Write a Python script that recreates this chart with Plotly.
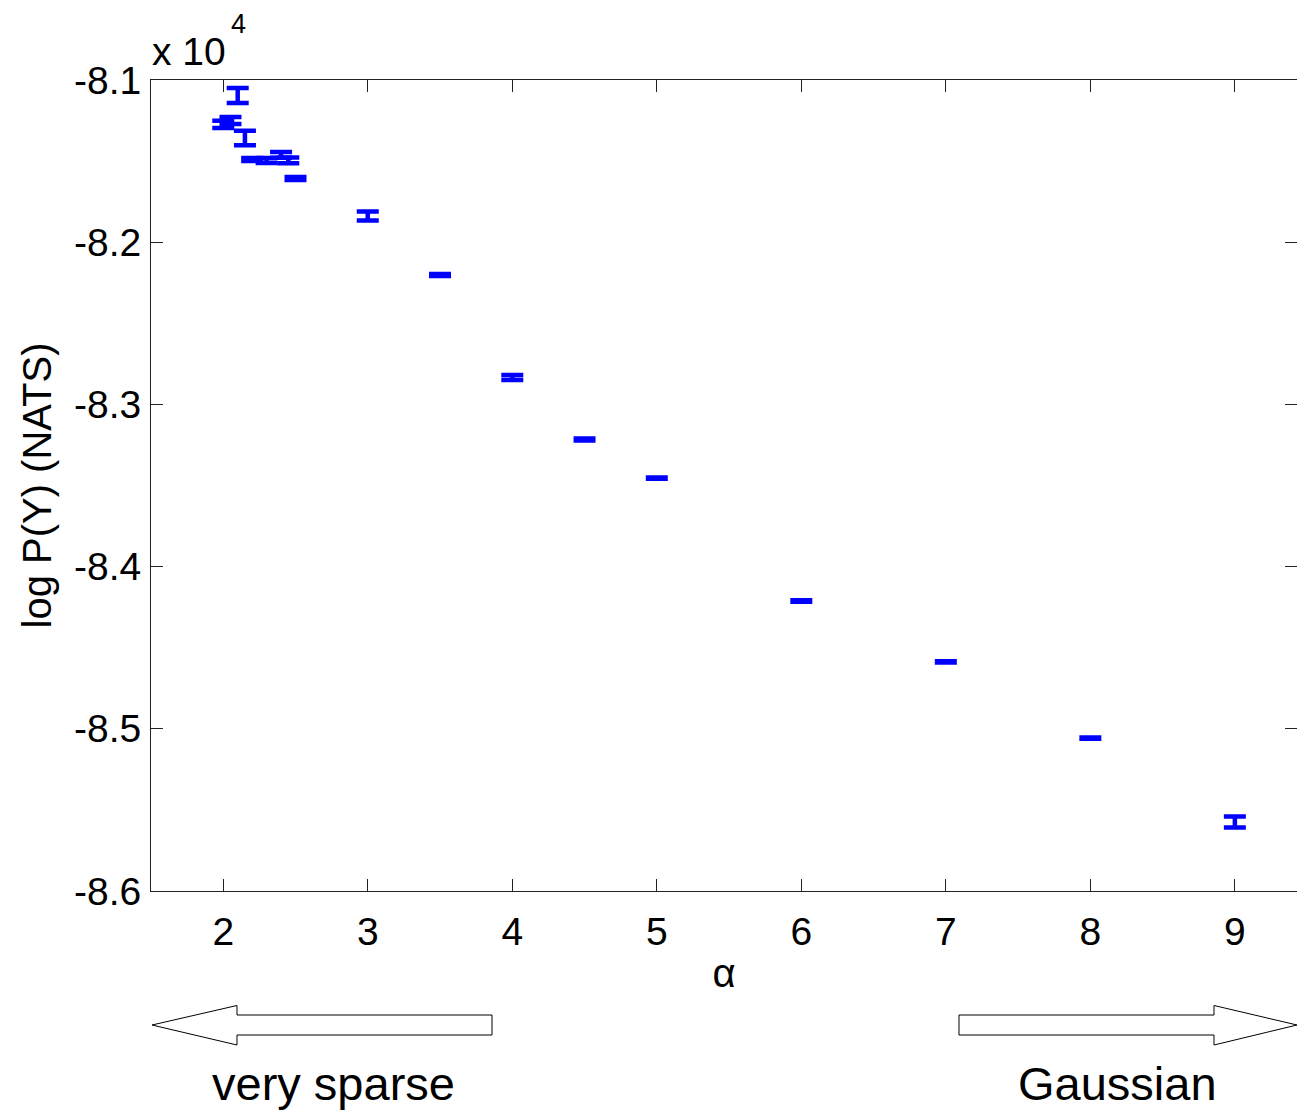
import plotly.graph_objects as go

# ---- data (log P(Y) in nats) ----
alpha = [2.0, 2.05, 2.1, 2.15, 2.2, 2.3, 2.4, 2.45, 2.5, 3.0, 3.5, 4.0, 4.5, 5.0, 6.0, 7.0, 8.0, 9.0]
logp = [-81274, -81250, -81096, -81358, -81490, -81496, -81462, -81496, -81607,
        -81838, -82202, -82834, -83216, -83454, -84212, -84588, -85057, -85574]
err = [22, 22, 46, 45, 9, 15, 18, 18, 9, 28, 6, 15, 6, 4, 4, 4, 4, 34]

x_ticks = [2, 3, 4, 5, 6, 7, 8, 9]
y_ticks = [-86000, -85000, -84000, -83000, -82000, -81000]
y_ticktext = ["-8.6", "-8.5", "-8.4", "-8.3", "-8.2", "-8.1"]

W, H = 1297, 1110
L, R, T, B = 151, 0, 80, 219
PW, PH = W - L - R, H - T - B
FONT = "Liberation Sans, Arial, Helvetica, sans-serif"


def px(x):
    return (x - L) / PW


def py(y):
    return (H - B - y) / PH


fig = go.Figure()
fig.add_trace(go.Scatter(
    x=alpha, y=logp, mode="markers",
    marker=dict(size=2, color="#0000ff"),
    error_y=dict(type="data", array=err, visible=True, color="#0000ff", thickness=4.5, width=11),
    showlegend=False, hoverinfo="x+y",
))

axis_common = dict(
    showline=True, linecolor="#222", linewidth=1, mirror="ticks",
    ticks="inside", ticklen=12, tickcolor="#222", tickwidth=1,
    showgrid=False, zeroline=False,
    tickfont=dict(family=FONT, size=39, color="black"),
)

fig.update_xaxes(range=[1.5, 9.43], tickvals=x_ticks, ticklabelstandoff=6,
                 title=dict(text="α", font=dict(family=FONT, size=40, color="black"), standoff=7),
                 **axis_common)
fig.update_yaxes(range=[-86000, -81000], tickvals=y_ticks, ticktext=y_ticktext, ticklabelstandoff=1,
                 title=dict(text="log P(Y) (NATS)", font=dict(family=FONT, size=40, color="black"), standoff=9),
                 **axis_common)

shapes = []
# left arrow (very sparse)
lp = [(152, 1025), (237, 1005.5), (237, 1015), (492, 1015), (492, 1035), (237, 1035), (237, 1045)]
# right arrow (Gaussian)
rp = [(1297, 1025), (1214, 1005.5), (1214, 1015), (959, 1015), (959, 1035), (1214, 1035), (1214, 1045)]
for pts in (lp, rp):
    path = "M " + " L ".join(f"{px(a):.5f},{py(b):.5f}" for a, b in pts) + " Z"
    shapes.append(dict(type="path", xref="paper", yref="paper", path=path,
                       line=dict(color="black", width=1), fillcolor="white"))

annotations = [
    dict(text="x 10", x=px(150), y=py(52), xref="paper", yref="paper", xanchor="left", yanchor="middle",
         showarrow=False, font=dict(family=FONT, size=39, color="black")),
    dict(text="4", x=px(229), y=py(24), xref="paper", yref="paper", xanchor="left", yanchor="middle",
         showarrow=False, font=dict(family=FONT, size=27, color="black")),
    dict(text="very sparse", x=px(333), y=py(1083), xref="paper", yref="paper", xanchor="center", yanchor="middle",
         showarrow=False, font=dict(family=FONT, size=47, color="black")),
    dict(text="Gaussian", x=px(1117), y=py(1083), xref="paper", yref="paper", xanchor="center", yanchor="middle",
         showarrow=False, font=dict(family=FONT, size=47, color="black")),
]

fig.update_layout(
    width=W, height=H,
    margin=dict(l=L, r=R, t=T, b=B, pad=0),
    paper_bgcolor="white", plot_bgcolor="white",
    shapes=shapes, annotations=annotations,
    font=dict(family=FONT, color="black"),
)

fig.write_html("out.html")
